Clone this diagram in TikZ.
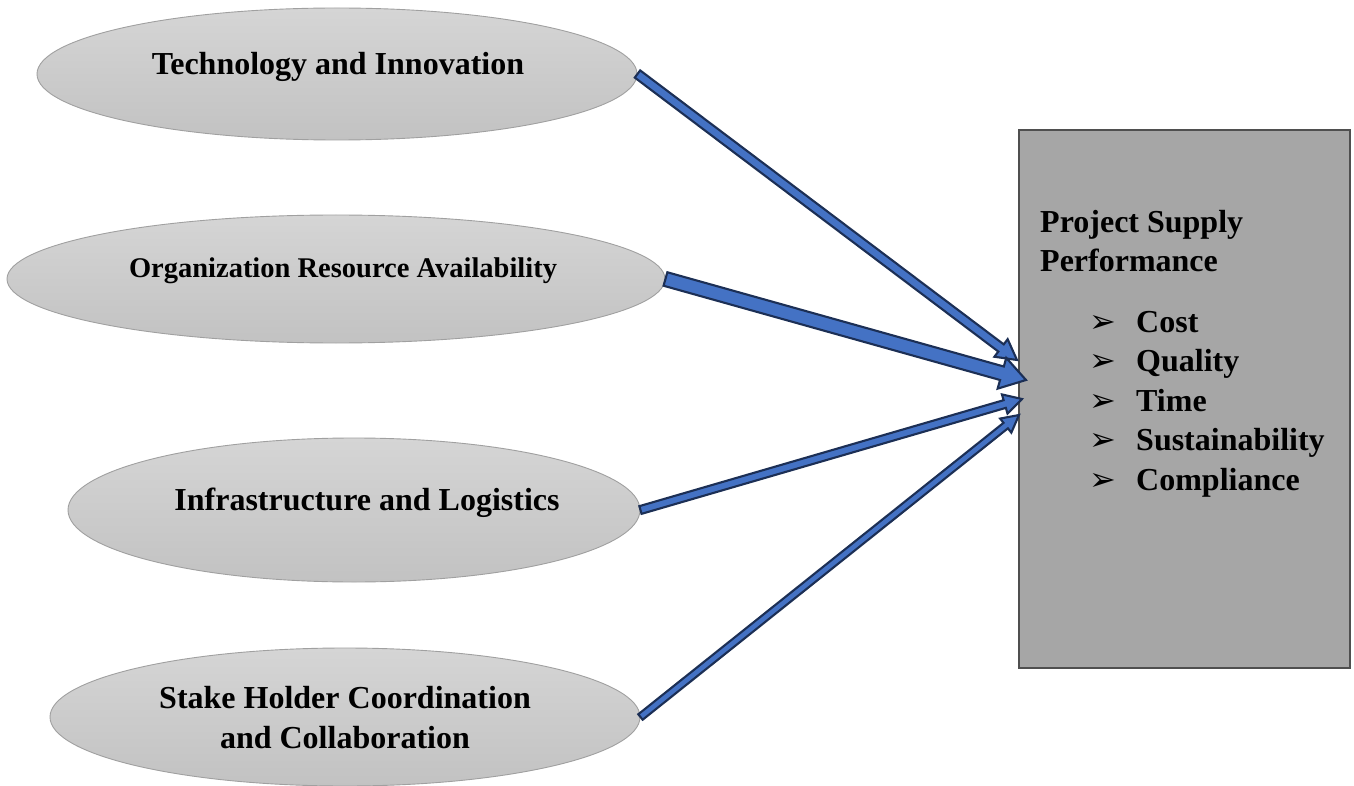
\documentclass[tikz,border=0pt]{standalone}
\usepackage{fontspec}
\setmainfont{Liberation Serif}
\newfontfamily\symfont{DejaVu Sans}
\usetikzlibrary{calc,shapes.geometric}

\definecolor{ovaltop}{HTML}{D5D5D5}
\definecolor{ovalbot}{HTML}{C2C2C2}
\definecolor{ovaledge}{HTML}{A0A0A0}
\definecolor{boxfill}{HTML}{A6A6A6}
\definecolor{boxedge}{HTML}{4F4F4F}
\definecolor{arrowblue}{HTML}{4472C4}
\definecolor{arrownavy}{HTML}{1C2F55}

% bullet glyph for the performance list
\newcommand\listarrow{{\symfont\bfseries\fontsize{32}{32}\selectfont ➢}}
\newcommand\listitem[1]{\makebox[47pt][l]{\listarrow}#1}

% block arrow from the east side of node #1 to coordinate #2
% #3 half shaft width, #4 half head width, #5 head length
\newcommand\blockarrow[5]{%
  \coordinate (#2-base) at ($(#2)!#5!(#1.east)$);
  \path[flowarrow]
    ($(#1.east)!#3!90:(#2)$) -- ($(#2-base)!#3!90:(#2)$) --
    ($(#2-base)!#4!90:(#2)$) -- (#2) --
    ($(#2-base)!#4!-90:(#2)$) -- ($(#2-base)!#3!-90:(#2)$) --
    ($(#1.east)!#3!-90:(#2)$) -- cycle;
}

\begin{document}
\begin{tikzpicture}[x=1pt,y=-1pt,
  oval/.style={ellipse, draw=ovaledge, line width=0.9pt,
    top color=ovaltop, bottom color=ovalbot, inner sep=0pt},
  ovaltext/.style={font=\bfseries\fontsize{32}{40}\selectfont,
    align=center, inner sep=0pt, anchor=base},
  perfbox/.style={draw=boxedge, line width=2pt, fill=boxfill, inner sep=0pt},
  flowarrow/.style={fill=arrowblue, draw=arrownavy, line width=2.1pt, line join=miter},
  boxtext/.style={font=\bfseries\fontsize{32}{39.5}\selectfont,
    align=left, inner sep=0pt, anchor=base west}]
\useasboundingbox (0,0) rectangle (1354,786);

% factor ovals
\node[oval, minimum width=600pt, minimum height=132pt] (tech)  at (337,74)  {};
\node[oval, minimum width=658pt, minimum height=128pt] (org)   at (336,279) {};
\node[oval, minimum width=572pt, minimum height=144pt] (infra) at (354,510) {};
\node[oval, minimum width=590pt, minimum height=138pt] (stake) at (345,717) {};

% oval labels (multi-line labels sit on the baseline of their last line)
\node[ovaltext] (techtext)  at (338,75)  {Technology and Innovation};
\node[ovaltext, font=\bfseries\fontsize{28.5}{34}\selectfont] (orgtext) at (343,278) {Organization Resource Availability};
\node[ovaltext] (infratext) at (367,510) {Infrastructure and Logistics};
\node[ovaltext] (staketext) at (345,748) {Stake Holder Coordination\\and Collaboration};

% outcome box
\node[perfbox, minimum width=331pt, minimum height=538pt] (perf) at (1184.5,399) {};
\node[boxtext] (perftitle) at (1040,272) {Project Supply\\Performance};
\node[boxtext] (perflist) at (1089,490) {\listitem{Cost}\\\listitem{Quality}\\\listitem{Time}\\\listitem{Sustainability}\\\listitem{Compliance}};

% arrow tips on the box edge
\coordinate (tipA) at ($(perf.west)+(-1,-39)$);
\coordinate (tipB) at ($(perf.west)+(8,-19)$);
\coordinate (tipC) at ($(perf.west)+(4,0)$);
\coordinate (tipD) at ($(perf.west)+(1,16)$);

\blockarrow{tech}{tipA}{4.5pt}{11pt}{20pt}
\blockarrow{org}{tipB}{7pt}{16pt}{25pt}
\blockarrow{infra}{tipC}{4pt}{10pt}{18pt}
\blockarrow{stake}{tipD}{3.5pt}{9pt}{17pt}
\end{tikzpicture}
\end{document}
